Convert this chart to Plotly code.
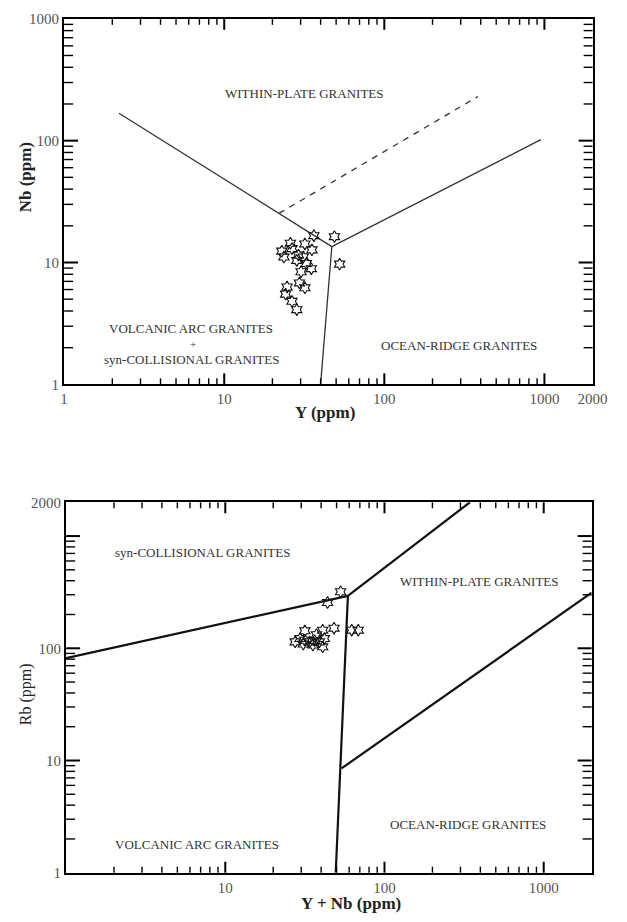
import plotly.graph_objects as go
import numpy as np

# ---------------- data ----------------
# Top diagram: Nb vs Y
top_y_ppm = [36.3, 48.8, 52.6, 22.9, 25.9, 26.5, 23.6, 31.9, 35.3, 29.1, 31.2,
             28.4, 32.6, 35.0, 30.2, 29.5, 31.9, 24.7, 24.2, 26.5, 28.4]
top_nb_ppm = [16.6, 16.3, 9.7, 12.4, 14.4, 13.0, 11.1, 14.2, 12.7, 11.5, 11.1,
              10.4, 9.8, 8.9, 8.4, 6.8, 6.2, 6.3, 5.5, 4.8, 4.1]

# boundary lines (top)
top_wpg_vag_x = [2.2, 47]
top_wpg_vag_y = [168, 13.5]
top_wpg_org_x = [47, 950]
top_wpg_org_y = [13.5, 102]
top_vag_org_x = [47, 40]
top_vag_org_y = [13.5, 1]
top_dash_x = [22, 384]
top_dash_y = [25.3, 230]

# Bottom diagram: Rb vs Y+Nb
bot_ynb_ppm = [53.0, 43.9, 48.2, 40.9, 31.6, 62.3, 68.4, 29.5, 31.6, 33.9, 36.4,
               39.0, 41.9, 35.5, 30.9, 40.9, 37.4, 27.5]
bot_rb_ppm = [319, 256, 151, 145, 143, 145, 145, 122, 118, 114, 117,
              114, 122, 107, 109, 103, 132, 114]

bot_syn_vag_x = [1, 58.9]
bot_syn_vag_y = [81.6, 293]
bot_syn_wpg_x = [58.9, 344]
bot_syn_wpg_y = [293, 2000]
bot_vag_org_x = [58.9, 49.4]
bot_vag_org_y = [293, 1]
bot_wpg_org_x = [53.7, 2000]
bot_wpg_org_y = [8.5, 313]

# tick labels
top_x_vals = [1, 10, 100, 1000, 2000]
top_x_text = ["1", "10", "100", "1000", "2000"]
bot_x_vals = [10, 100, 1000]
bot_x_text = ["10", "100", "1000"]
top_y_vals = [1, 10, 100, 1000]
top_y_text = ["1", "10", "100", "1000"]
bot_y_vals = [1, 10, 100, 2000]
bot_y_text = ["1", "10", "100", "2000"]

# tick marks
major_marks = [10, 100, 1000]
minor_marks = [m * d for d in (1, 10, 100) for m in range(2, 10)]

# ---------------- layout helpers ----------------
W, H = 627, 922
def px(x):
    return x / W
def py(y):
    return 1 - y / H

SERIF = "Liberation Serif"
LX2000 = float(np.log10(2000))

fig = go.Figure()

line_thin = dict(color="#333", width=1.3)
line_thick = dict(color="#111", width=2.2)

def add_line(xs, ys, ax, line):
    fig.add_trace(go.Scatter(x=xs, y=ys, mode="lines", line=line,
                             xaxis=ax[0], yaxis=ax[1], hoverinfo="skip",
                             showlegend=False))

add_line(top_wpg_vag_x, top_wpg_vag_y, ("x", "y"), line_thin)
add_line(top_wpg_org_x, top_wpg_org_y, ("x", "y"), line_thin)
add_line(top_vag_org_x, top_vag_org_y, ("x", "y"), line_thin)
add_line(top_dash_x, top_dash_y, ("x", "y"), dict(color="#333", width=1.3, dash="6px,6px"))

add_line(bot_syn_vag_x, bot_syn_vag_y, ("x2", "y2"), line_thick)
add_line(bot_syn_wpg_x, bot_syn_wpg_y, ("x2", "y2"), line_thick)
add_line(bot_vag_org_x, bot_vag_org_y, ("x2", "y2"), line_thick)
add_line(bot_wpg_org_x, bot_wpg_org_y, ("x2", "y2"), line_thick)

marker = dict(symbol="hexagram-open", size=9, color="#111", line=dict(width=1.1, color="#111"))
fig.add_trace(go.Scatter(x=top_y_ppm, y=top_nb_ppm, mode="markers", marker=marker,
                         xaxis="x", yaxis="y", showlegend=False))
fig.add_trace(go.Scatter(x=bot_ynb_ppm, y=bot_rb_ppm, mode="markers", marker=marker,
                         xaxis="x2", yaxis="y2", showlegend=False))

def axis(domain, rng, tickvals, ticktext, anchor):
    return dict(type="log", domain=domain, range=rng, anchor=anchor,
                tickmode="array", tickvals=tickvals, ticktext=ticktext, ticks="",
                showline=True, linewidth=2, linecolor="black", mirror=True,
                showgrid=False, zeroline=False,
                tickfont=dict(family=SERIF, size=15, color="#555"))

fig.update_layout(
    width=W, height=H, margin=dict(l=0, r=0, t=0, b=0),
    plot_bgcolor="white", showlegend=False,
    xaxis=axis([px(62), px(607)], [0, LX2000], top_x_vals, top_x_text, "y"),
    yaxis=axis([py(383), py(11)], [0, 3], top_y_vals, top_y_text, "x"),
    xaxis2=axis([px(64), px(606)], [0, LX2000], bot_x_vals, bot_x_text, "y2"),
    yaxis2=axis([py(880), py(503)], [0, LX2000], bot_y_vals, bot_y_text, "x2"),
)

# inward tick marks on all four sides, placed through the log scale of each axis
def tick_marks(xa, ya, xspan, yspan):
    shapes = []
    for vals, length, width in ((major_marks, 11, 2), (minor_marks, 6, 1.4)):
        for v in vals:
            f = np.log10(v) / xspan
            if 0 < f < 1:
                for anchor, sign in ((0, 1), (1, -1)):
                    shapes.append(dict(type="line", xref=xa + " domain", yref=ya + " domain",
                                       x0=f, x1=f, ysizemode="pixel", yanchor=anchor,
                                       y0=0, y1=sign * length,
                                       line=dict(color="black", width=width), layer="above"))
            g = np.log10(v) / yspan
            if 0 < g < 1:
                for anchor, sign in ((0, 1), (1, -1)):
                    shapes.append(dict(type="line", xref=xa + " domain", yref=ya + " domain",
                                       y0=g, y1=g, xsizemode="pixel", xanchor=anchor,
                                       x0=0, x1=sign * (length + 3),
                                       line=dict(color="black", width=width), layer="above"))
    return shapes

fig.update_layout(shapes=tick_marks("x", "y", LX2000, 3.0) + tick_marks("x2", "y2", LX2000, LX2000))

def label(x, y, text, size=13, angle=0, color="#333"):
    fig.add_annotation(x=px(x), y=py(y), xref="paper", yref="paper", text=text,
                       showarrow=False, textangle=angle,
                       font=dict(family=SERIF, size=size, color=color),
                       xanchor="center", yanchor="middle")

# region labels top
label(310, 87, "WITHIN-PLATE GRANITES")
label(193, 326, "VOLCANIC ARC GRANITES")
label(195, 342, "+", size=11)
label(193, 358, "syn-COLLISIONAL GRANITES")
label(469, 343, "OCEAN-RIDGE GRANITES")
# region labels bottom
label(205, 554, "syn-COLLISIONAL GRANITES")
label(490, 584, "WITHIN-PLATE GRANITES")
label(199, 851, "VOLCANIC ARC GRANITES")
label(478, 831, "OCEAN-RIDGE GRANITES")

# axis titles
label(331, 412, "<b>Y (ppm)</b>", size=17, color="#222")
label(22, 172, "<b>Nb (ppm)</b>", size=17, angle=-90, color="#222")
label(358, 911, "<b>Y + Nb (ppm)</b>", size=17, color="#222")
label(23, 698, "Rb (ppm)", size=16, angle=-90, color="#222")

fig.write_html("out.html")
